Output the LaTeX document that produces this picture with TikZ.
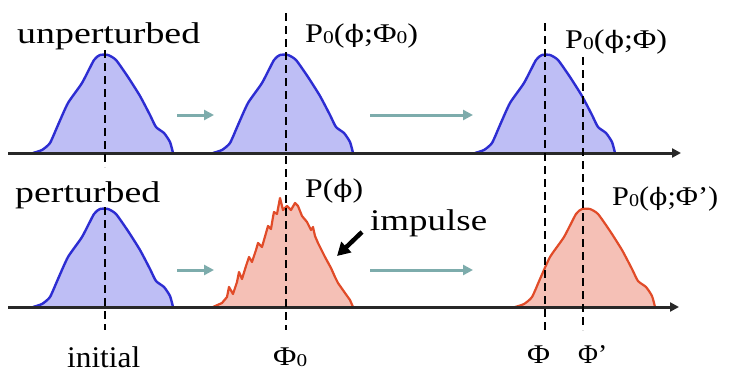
\documentclass[tikz,border=0pt]{standalone}
\usepackage{fontspec}
\setmainfont{Liberation Serif}
\newfontfamily\phifont{DejaVu Serif}
\usetikzlibrary{arrows.meta}
\definecolor{bluefill}{RGB}{190,190,245}
\definecolor{bluestroke}{RGB}{45,45,210}
\definecolor{redfill}{RGB}{245,192,182}
\definecolor{redstroke}{RGB}{225,75,40}
\definecolor{teal}{RGB}{125,172,172}
\definecolor{axisgray}{RGB}{40,40,40}
\newcommand\wtext[2]{\resizebox{#1pt}{\height}{#2}}
\newcommand\smallzero{\raisebox{-1pt}{\fontsize{18}{18}\selectfont 0}}
\newcommand\ph{{\phifont\fontsize{24}{24}\selectfont ϕ}}
\newcommand\drawhump[4]{%
  \begin{scope}[shift={(#1,#2)}]
    \fill[#3] plot[smooth,tension=0.35] coordinates {(33,153) (42,150) (50,143) (58,125) (68,103) (82,83) (94,60) (100,55) (108,55) (116,60) (128,77) (140,96) (150,115) (156,127) (164,133) (170,142) (173,153)} -- cycle;
    \draw[#4] plot[smooth,tension=0.35] coordinates {(33,153) (42,150) (50,143) (58,125) (68,103) (82,83) (94,60) (100,55) (108,55) (116,60) (128,77) (140,96) (150,115) (156,127) (164,133) (170,142) (173,153)};
  \end{scope}}
\begin{document}
\begin{tikzpicture}[x=1pt,y=-1pt,
  bigtext/.style={anchor=base west,inner sep=0pt,font=\fontsize{30}{30}\selectfont},
  lbltext/.style={anchor=base west,inner sep=0pt,font=\fontsize{27}{27}\selectfont},
  bluecurve/.style={bluestroke,line width=2.4pt,line join=round},
  redcurve/.style={redstroke,line width=2.2pt,line join=round},
  axisline/.style={axisgray,line width=3pt,-{Triangle[length=9pt,width=9pt]}},
  flow/.style={teal,line width=3pt,-{Triangle[length=10pt,width=10pt]}},
  guide/.style={black,line width=1.3pt,dash pattern=on 8pt off 5pt}]
\useasboundingbox[fill=white] (0,0) rectangle (729,380);
% humps
\drawhump{0}{0}{bluefill}{bluecurve}
\drawhump{180}{0}{bluefill}{bluecurve}
\drawhump{442}{0}{bluefill}{bluecurve}
\drawhump{0}{154}{bluefill}{bluecurve}
\drawhump{482}{154}{redfill}{redcurve}
% perturbed jagged
\fill[redfill] (213,307) -- (222,303) -- (227,297) -- (229,287) -- (233,294) -- (237,282) -- (239,272) -- (242,279) -- (246,266) -- (249,257) -- (252,262) -- (256,250) -- (258,243) -- (262,247) -- (266,233) -- (268,226) -- (271,229) -- (273,217) -- (274,212) -- (277,214) -- (280,198) -- (283,210) -- (287,206) -- (291,210) -- (295,203) -- (298,206) -- (302,216) -- (307,222) -- (311,230) -- (313,227) -- (315,236) -- (318,243) -- (325,257) -- (331,268) -- (335,277) -- (338,283) -- (345,293) -- (350,300) -- (353,307) -- cycle;
\draw[redcurve] (213,307) -- (222,303) -- (227,297) -- (229,287) -- (233,294) -- (237,282) -- (239,272) -- (242,279) -- (246,266) -- (249,257) -- (252,262) -- (256,250) -- (258,243) -- (262,247) -- (266,233) -- (268,226) -- (271,229) -- (273,217) -- (274,212) -- (277,214) -- (280,198) -- (283,210) -- (287,206) -- (291,210) -- (295,203) -- (298,206) -- (302,216) -- (307,222) -- (311,230) -- (313,227) -- (315,236) -- (318,243) -- (325,257) -- (331,268) -- (335,277) -- (338,283) -- (345,293) -- (350,300) -- (353,307);
% axes
\coordinate (a1s) at (8,153); \coordinate (a1e) at (681,153);
\coordinate (a2s) at (8,307); \coordinate (a2e) at (679,307);
\draw[axisline] (a1s) -- (a1e);
\draw[axisline] (a2s) -- (a2e);
% dashed guides
\coordinate (i1) at (105,50); \coordinate (i2) at (105,167);
\coordinate (i3) at (105,207); \coordinate (i4) at (105,330);
\coordinate (f1) at (286,13); \coordinate (f2) at (286,330);
\coordinate (g1) at (545,23); \coordinate (g2) at (545,330);
\coordinate (h1) at (583,57); \coordinate (h2) at (583,330);
\draw[guide] (i1) -- (i2);
\draw[guide] (i3) -- (i4);
\draw[guide] (f1) -- (f2);
\draw[guide] (g1) -- (g2);
\draw[guide] (h1) -- (h2);
% flow arrows
\coordinate (t1) at (177,115); \coordinate (t2) at (214,115);
\coordinate (t3) at (370,115); \coordinate (t4) at (473,115);
\coordinate (b1) at (177,270); \coordinate (b2) at (214,270);
\coordinate (b3) at (370,270); \coordinate (b4) at (473,270);
\draw[flow] (t1) -- (t2);
\draw[flow] (t3) -- (t4);
\draw[flow] (b1) -- (b2);
\draw[flow] (b3) -- (b4);
% labels
\node[bigtext] (unp) at (17,43) {\wtext{183}{unperturbed}};
\node[bigtext] (per) at (15,202) {\wtext{145}{perturbed}};
\node[bigtext] (imp) at (370,230) {\wtext{117}{impulse}};
\node[bigtext] (ini) at (67,367) {\wtext{73}{initial}};
\node[lbltext] (pa) at (305,42) {\wtext{113}{P\smallzero(\ph;Φ\smallzero)}};
\node[lbltext] (pb) at (565,48) {\wtext{102}{P\smallzero(\ph;Φ)}};
\node[lbltext] (pc) at (305,197) {\wtext{58}{P(\ph)}};
\node[lbltext] (pd) at (612,205) {\wtext{106}{P\smallzero(\ph;Φ')}};
\node[lbltext] (x1) at (273,365) {\wtext{34}{Φ\smallzero}};
\node[lbltext] (x2) at (527,363) {\wtext{23}{Φ}};
\node[lbltext] (x3) at (578,363) {\wtext{29}{Φ'}};
% impulse arrow
\coordinate (ia) at (362,232); \coordinate (ib) at (337,256);
\draw[black,line width=4.5pt,-{Triangle[length=13pt,width=14pt]}] (ia) -- (ib);
\end{tikzpicture}
\end{document}
